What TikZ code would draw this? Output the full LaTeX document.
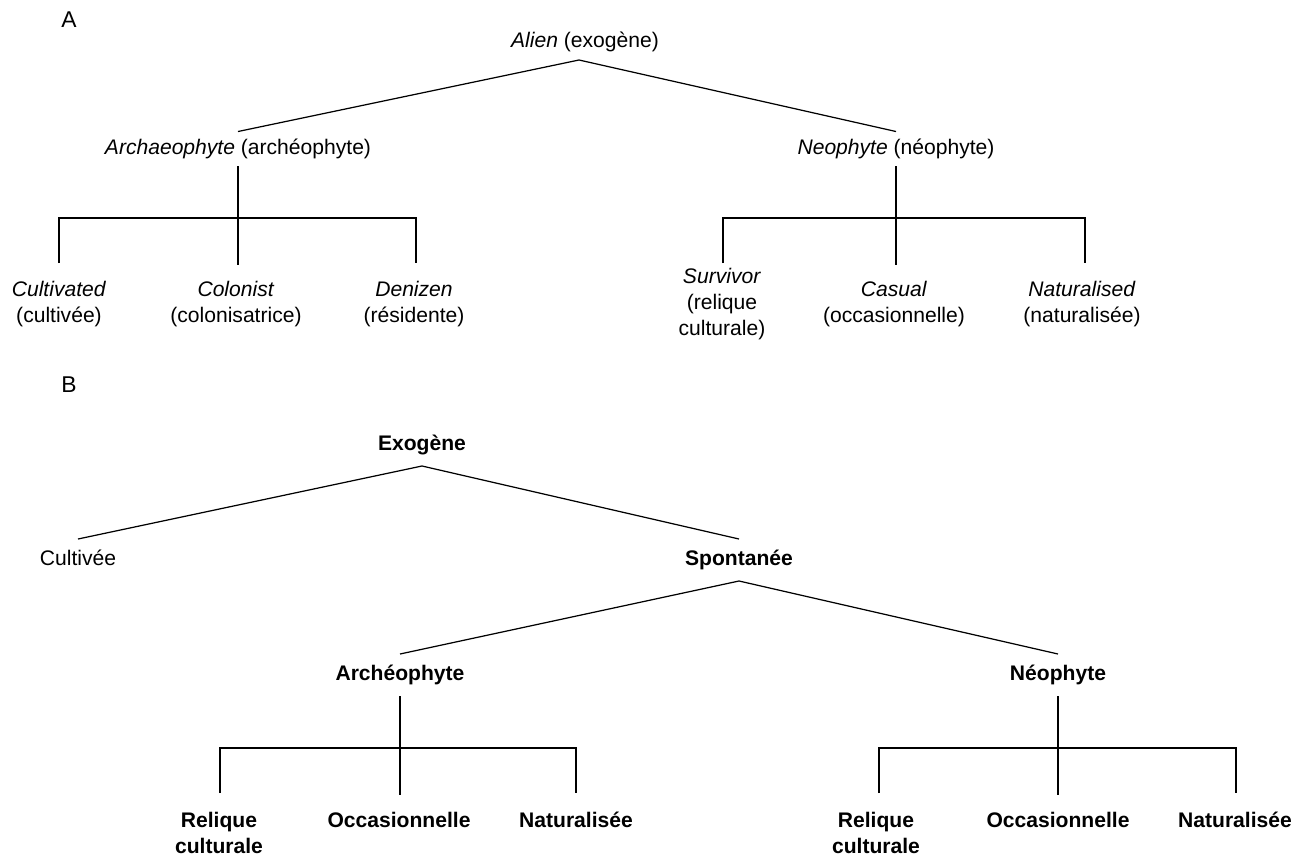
\documentclass[tikz,border=0pt]{standalone}
\usepackage{fontspec}
\setmainfont{Liberation Sans}
\usepackage{tikz}

\begin{document}
\begin{tikzpicture}[x=0.02cm, y=-0.02cm]
        % Define styles
        \tikzset{
            lbl/.style={font=\fontsize{12}{15}\selectfont, text height=9pt, text depth=2.5pt, inner xsep=0pt},
            lblA/.style={lbl, inner ysep=4pt},
            lblB/.style={lbl, inner ysep=6pt},
            leaf/.style={font=\fontsize{12}{15}\selectfont, align=center, inner sep=0pt},
            panel/.style={font=\fontsize{13}{15}\selectfont},
            line/.style={line width=0.7pt}
        }
        \useasboundingbox (0,0) rectangle (1307,859);

        % Panel A: place nodes
        \node[panel] (pA) at (69,20) {A};
        \node[lblA] (alien) at (585,42) {\textit{Alien} (exogène)};
        \node[coordinate] (apexA) at (579,60) {};
        \node[lblA] (archA) at (238,149) {\textit{Archaeophyte} (archéophyte)};
        \node[lblA] (neoA) at (896,149) {\textit{Neophyte} (néophyte)};

        \node[coordinate] (barA1) at (59,218) {};
        \node[coordinate] (barA3) at (416,218) {};
        \node[coordinate] (tickA1) at (59,263) {};
        \node[coordinate] (tickA2) at (238,265) {};
        \node[coordinate] (tickA3) at (416,263) {};
        \node[coordinate] (barA4) at (723,218) {};
        \node[coordinate] (barA6) at (1085,218) {};
        \node[coordinate] (tickA4) at (723,263) {};
        \node[coordinate] (tickA5) at (896,265) {};
        \node[coordinate] (tickA6) at (1085,263) {};

        \node[leaf] (cultA) at (59,304) {\textit{Cultivated}\\(cultivée)};
        \node[leaf] (colA) at (236,304) {\textit{Colonist}\\(colonisatrice)};
        \node[leaf] (denA) at (414,304) {\textit{Denizen}\\(résidente)};
        \node[leaf] (survA) at (722,304) {\textit{Survivor}\\(relique\\culturale)};
        \node[leaf] (casA) at (894,304) {\textit{Casual}\\(occasionnelle)};
        \node[leaf] (natA) at (1082,304) {\textit{Naturalised}\\(naturalisée)};

        % Panel A: draw lines
        \draw[line] (archA.north) -- (apexA) -- (neoA.north);
        \draw[line] (archA.south) -- (tickA2);
        \draw[line] (tickA1) -- (barA1) -- (barA3) -- (tickA3);
        \draw[line] (neoA.south) -- (tickA5);
        \draw[line] (tickA4) -- (barA4) -- (barA6) -- (tickA6);

        % Panel B: place nodes
        \node[panel] (pB) at (69,385) {B};
        \node[lblB, font=\fontsize{12}{15}\selectfont\bfseries] (exo) at (422,445) {Exogène};
        \node[lblB] (cultB) at (78,560) {Cultivée};
        \node[lblB, font=\fontsize{12}{15}\selectfont\bfseries] (spon) at (739,560) {Spontanée};
        \node[lblB, font=\fontsize{12}{15}\selectfont\bfseries] (archB) at (400,675) {Archéophyte};
        \node[lblB, font=\fontsize{12}{15}\selectfont\bfseries] (neoB) at (1058,675) {Néophyte};

        \node[coordinate] (barB1) at (220,748) {};
        \node[coordinate] (barB3) at (576,748) {};
        \node[coordinate] (tickB1) at (220,793) {};
        \node[coordinate] (tickB2) at (400,795) {};
        \node[coordinate] (tickB3) at (576,793) {};
        \node[coordinate] (barB4) at (879,748) {};
        \node[coordinate] (barB6) at (1236,748) {};
        \node[coordinate] (tickB4) at (879,793) {};
        \node[coordinate] (tickB5) at (1058,795) {};
        \node[coordinate] (tickB6) at (1236,793) {};

        \node[leaf, anchor=north, font=\fontsize{12}{14.5}\selectfont\bfseries] (relB1) at (219,812) {Relique\\culturale};
        \node[leaf, anchor=north, font=\fontsize{12}{14.5}\selectfont\bfseries] (occB1) at (399,812) {Occasionnelle};
        \node[leaf, anchor=north, font=\fontsize{12}{14.5}\selectfont\bfseries] (natB1) at (576,812) {Naturalisée};
        \node[leaf, anchor=north, font=\fontsize{12}{14.5}\selectfont\bfseries] (relB2) at (876,812) {Relique\\culturale};
        \node[leaf, anchor=north, font=\fontsize{12}{14.5}\selectfont\bfseries] (occB2) at (1058,812) {Occasionnelle};
        \node[leaf, anchor=north, font=\fontsize{12}{14.5}\selectfont\bfseries] (natB2) at (1235,812) {Naturalisée};

        % Panel B: draw lines
        \draw[line] (cultB.north) -- (exo.south) -- (spon.north);
        \draw[line] (archB.north) -- (spon.south) -- (neoB.north);
        \draw[line] (archB.south) -- (tickB2);
        \draw[line] (tickB1) -- (barB1) -- (barB3) -- (tickB3);
        \draw[line] (neoB.south) -- (tickB5);
        \draw[line] (tickB4) -- (barB4) -- (barB6) -- (tickB6);
\end{tikzpicture}
\end{document}
